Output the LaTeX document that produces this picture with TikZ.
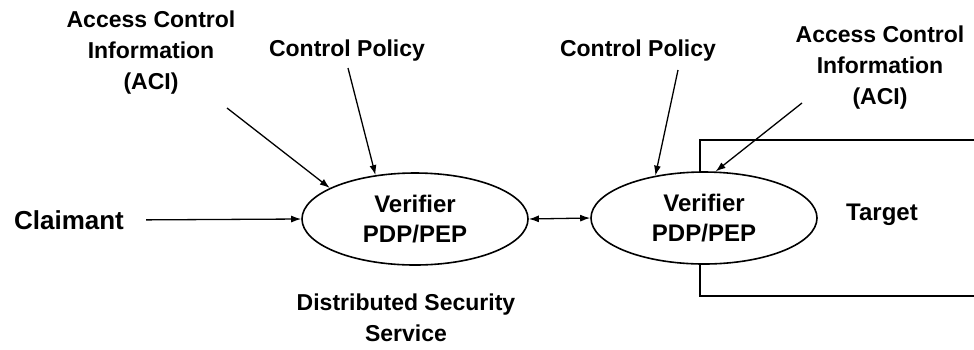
\documentclass[tikz,border=0pt]{standalone}
\usepackage{fontspec}
\setmainfont{Liberation Sans}
\usetikzlibrary{arrows.meta,shapes.geometric}
\begin{document}
\begin{tikzpicture}[x=1pt,y=-1pt,
  lbl/.style={font=\fontsize{23}{31}\selectfont\bfseries, align=center, inner sep=0pt},
  pdp/.style={ellipse, draw, line width=1.6pt, fill=white, minimum width=226pt, minimum height=92pt, inner sep=0pt,
              font=\fontsize{24}{30}\selectfont\bfseries, align=center},
  arr/.style={line width=1.3pt, -{Latex[length=10pt,width=7pt]}},
  darr/.style={line width=1.3pt, {Latex[length=10pt,width=7pt]}-{Latex[length=10pt,width=7pt]}},
  box/.style={line width=1.8pt}]
\useasboundingbox (0,0) rectangle (974,349);
% target box (drawn behind the ellipse)
\draw[box] (976,140) -- (700,140) -- (700,296) -- (976,296);
\node[pdp] (v1) at (415,219) {Verifier\\PDP/PEP};
\node[pdp] (v2) at (704,218) {Verifier\\PDP/PEP};
\node[lbl, font=\fontsize{24}{31}\selectfont\bfseries] (target) at (882,215) {Target};
\node[lbl, font=\fontsize{26}{31}\selectfont\bfseries] (claim) at (69,220) {Claimant};
\node[lbl] (aci1) at (151,53) {Access Control\\Information\\(ACI)};
\node[lbl] (cp1) at (347,51) {Control Policy};
\node[lbl] (cp2) at (638,51) {Control Policy};
\node[lbl] (aci2) at (880,68) {Access Control\\Information\\(ACI)};
\node[lbl] (dss) at (406,318) {Distributed Security\\Service};
% connector free ends
\coordinate (a1s) at (227,108);
\coordinate (c1s) at (348,68);
\coordinate (c2s) at (678,70);
\coordinate (a2s) at (802,103);
\draw[arr, shorten <=22pt] (claim.east) -- (v1.west);
\draw[arr] (a1s) -- (v1.160);
\draw[arr] (c1s) -- (v1.132);
\draw[arr] (c2s) -- (v2.139);
\draw[arr] (a2s) -- (v2.76);
\draw[darr] (v1.east) -- (v2.west);
\end{tikzpicture}
\end{document}
